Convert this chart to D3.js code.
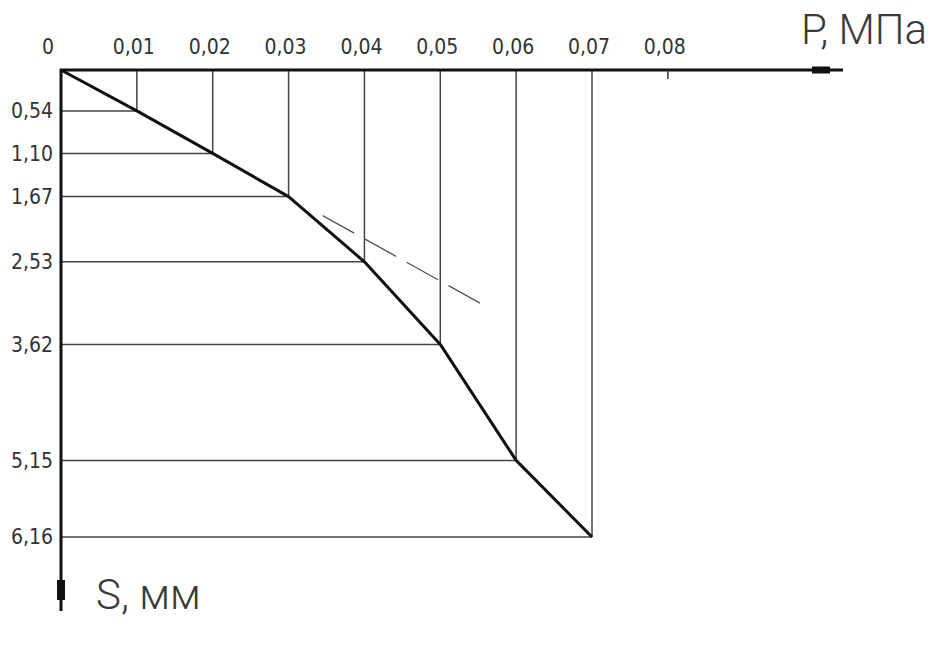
<!DOCTYPE html>
<html>
<head>
<meta charset="utf-8">
<script src="https://cdn.jsdelivr.net/npm/d3@7"></script>
<style>
  body { margin: 0; background: #fff; }
  .tick-label { font-family: "Liberation Sans Narrow", "DejaVu Sans Condensed", sans-serif; font-size: 21px; fill: #333; }
  .axis-title { font-family: Roboto, sans-serif; font-weight: 300; font-size: 42px; fill: #3a3a3a; }
</style>
</head>
<body>
<div id="chart"></div>
<script>
// load P (MPa) vs settlement S (mm)
const pressure = [0, 0.01, 0.02, 0.03, 0.04, 0.05, 0.06, 0.07];
const settlement = [0, 0.54, 1.10, 1.67, 2.53, 3.62, 5.15, 6.16];
const xTicks = [0, 0.01, 0.02, 0.03, 0.04, 0.05, 0.06, 0.07, 0.08];
const yTicks = [0.54, 1.10, 1.67, 2.53, 3.62, 5.15, 6.16];
// dashed continuation of the linear part
const dashP = [0.0345, 0.0555];

const width = 934, height = 652;
const svg = d3.select('#chart').append('svg')
  .attr('width', width)
  .attr('height', height);

const x = d3.scaleLinear().domain([0, 0.07]).range([61, 592]);
const y = d3.scaleLinear().domain([0, 6.16]).range([70, 537]);
const comma = v => v === 0 ? '0' : d3.format('.2f')(v).replace('.', ',');

const data = pressure.map((p, i) => [p, settlement[i]]);

// drop lines from P axis to the curve
svg.append('g').selectAll('line').data(data.slice(1)).enter().append('line')
  .attr('x1', d => x(d[0])).attr('x2', d => x(d[0]))
  .attr('y1', y(0)).attr('y2', d => y(d[1]))
  .attr('stroke', '#444').attr('stroke-width', 1.5);

// horizontal lines from S axis to the curve
svg.append('g').selectAll('line').data(data.slice(1)).enter().append('line')
  .attr('x1', x(0)).attr('x2', d => x(d[0]))
  .attr('y1', d => y(d[1])).attr('y2', d => y(d[1]))
  .attr('stroke', '#444').attr('stroke-width', 1.5);

// dashed line
const slope = settlement[3] / pressure[3];
svg.append('line')
  .attr('x1', x(dashP[0])).attr('y1', y(dashP[0] * slope))
  .attr('x2', x(dashP[1])).attr('y2', y(dashP[1] * slope))
  .attr('stroke', '#555').attr('stroke-width', 1.3)
  .attr('stroke-dasharray', '36,12');

// curve
svg.append('path')
  .datum(data)
  .attr('d', d3.line().x(d => x(d[0])).y(d => y(d[1])))
  .attr('fill', 'none')
  .attr('stroke', '#111')
  .attr('stroke-width', 3)
  .attr('stroke-linejoin', 'round');

// P axis
svg.append('line')
  .attr('x1', x(0) - 1).attr('x2', 843)
  .attr('y1', y(0)).attr('y2', y(0))
  .attr('stroke', '#111').attr('stroke-width', 3);
svg.append('rect')
  .attr('x', 812).attr('y', y(0) - 3.5).attr('width', 18).attr('height', 7)
  .attr('fill', '#111');
svg.append('line')
  .attr('x1', x(0.08)).attr('x2', x(0.08))
  .attr('y1', y(0)).attr('y2', y(0) + 9)
  .attr('stroke', '#333').attr('stroke-width', 1.5);

// S axis
svg.append('line')
  .attr('x1', x(0)).attr('x2', x(0))
  .attr('y1', y(0) - 1).attr('y2', 611)
  .attr('stroke', '#111').attr('stroke-width', 3);
svg.append('rect')
  .attr('x', x(0) - 4).attr('y', 580).attr('width', 8).attr('height', 20)
  .attr('fill', '#111');

// tick labels
svg.append('g').selectAll('text').data(xTicks).enter().append('text')
  .attr('class', 'tick-label')
  .attr('x', d => d === 0 ? 48 : x(d) - 3)
  .attr('y', 54)
  .attr('text-anchor', 'middle')
  .text(comma);

svg.append('g').selectAll('text').data(yTicks).enter().append('text')
  .attr('class', 'tick-label')
  .attr('x', 53)
  .attr('y', d => y(d))
  .attr('dy', '0.35em')
  .attr('text-anchor', 'end')
  .text(comma);

// axis titles
svg.append('text').attr('class', 'axis-title')
  .attr('x', 801).attr('y', 44).text('P, МПа');
svg.append('text').attr('class', 'axis-title')
  .attr('x', 96).attr('y', 609).text('S, мм');
</script>
</body>
</html>
